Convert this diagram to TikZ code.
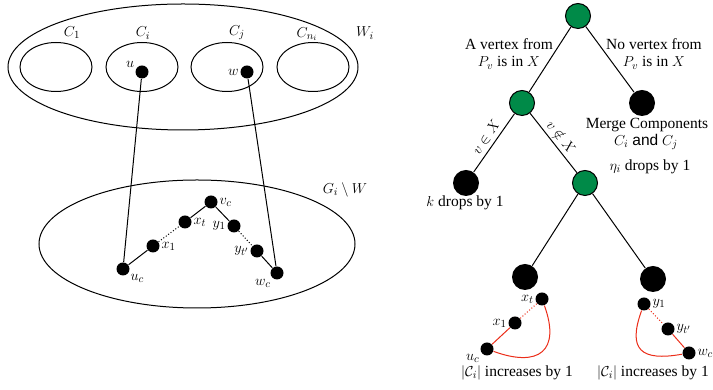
\documentclass[tikz,border=0pt]{standalone}
\usepackage{fontspec}
\setmainfont{Liberation Serif}
\setsansfont{Liberation Sans}
\usepackage{amsmath, amssymb}
\usetikzlibrary{shapes.geometric, positioning, calc}
\definecolor{treegreen}{RGB}{0, 138, 72}
\definecolor{pathred}{RGB}{235, 45, 25}

\tikzset{
  comp/.style={draw, ellipse, minimum width=72pt, minimum height=49pt, inner sep=0pt},
  vtx/.style={circle, fill=black, inner sep=0pt, minimum size=13pt},
  branch/.style={circle, draw, fill=treegreen, inner sep=0pt, minimum size=25pt},
  leaf/.style={circle, fill=black, inner sep=0pt, minimum size=26pt},
  lbl/.style={inner sep=1pt},
  edgelbl/.style={midway, sloped, above, inner sep=4pt},
}

\begin{document}
\begin{tikzpicture}[x=1pt, y=1pt, font=\fontsize{15.5}{17}\selectfont, line width=1pt]
  \useasboundingbox (0,0) rectangle (713,390);

  % Components of W_i
  \node[draw, ellipse, minimum width=350pt, minimum height=126pt] (W) at (183,323) {};
  \node (Wlbl) at (365,357) {$W_i$};
  \node[comp] (C1) at (56,323) {};
  \node[comp] (Ci) at (142,323) {};
  \node[comp] (Cj) at (227,323) {};
  \node[comp] (Cn) at (313,323) {};
  \node (C1lbl) at (72,357) {$C_1$};
  \node (Cilbl) at (143,357) {$C_i$};
  \node (Cjlbl) at (237,357) {$C_j$};
  \node (Cnlbl) at (307,356) {$C_{n_i}$};
  \node[vtx, label={[lbl]155:$u$}] (u) at (142,318) {};
  \node[vtx, label={[lbl]left:$w$}] (w) at (247,318) {};

  % The path inside G_i \ W
  \node[draw, ellipse, minimum width=316pt, minimum height=128pt] (G) at (197,146) {};
  \node (Glbl) at (345,200) {$G_i\setminus W$};
  \node[vtx, label={[lbl]right:$v_c$}] (vc) at (211,188) {};
  \node[vtx, label={[lbl]right:$x_t$}] (xt) at (185,168) {};
  \node[vtx, label={[lbl]left:$y_1$}] (y1) at (234,164) {};
  \node[vtx, label={[lbl]right:$x_1$}] (x1) at (153,144) {};
  \node[vtx, label={[lbl]left:$y_{t'}$}] (yt) at (257,139) {};
  \node[vtx, label={[lbl]-30:$u_c$}] (uc) at (123,121) {};
  \node[vtx, label={[lbl]-135:$w_c$}] (wc) at (277,117) {};

  \draw (u) -- (uc);
  \draw (w) -- (wc);
  \draw (uc) -- (x1);
  \draw[dotted] (x1) -- (xt);
  \draw (xt) -- (vc) -- (y1);
  \draw[dotted] (y1) -- (yt);
  \draw (yt) -- (wc);

  % Branching tree
  \node[branch] (root) at (578,374) {};
  \node[branch] (A) at (522,287) {};
  \node[leaf] (B) at (642,287) {};
  \node[leaf] (C) at (466,207) {};
  \node[branch] (D) at (585,207) {};
  \node[leaf] (E) at (525,113) {};
  \node[leaf] (F) at (653,111) {};

  \draw (root) -- (A);
  \draw (root) -- (B);
  \draw (A) -- node[edgelbl] {$v\in X$} (C);
  \draw (A) -- node[edgelbl] {$v\notin X$} (D);
  \draw (D) -- (E);
  \draw (D) -- (F);

  \node[align=center] (Albl) at (509,336) {A vertex from\\$P_v$ is in $X$};
  \node[align=center] (Blbl) at (654,336) {No vertex from\\$P_v$ is in $X$};
  \node (merge) at (647,265) {Merge Components};
  \node (mergeC) at (646,248) {$C_i$ {\sffamily and} $C_j$};
  \node (eta) at (650,223) {$\eta_i$ drops by 1};
  \node (kdrop) at (465,187) {$k$ drops by 1};

  % New cycles
  \node[vtx, label={[lbl]left:$x_t$}] (xt2) at (542,91) {};
  \node[vtx, label={[lbl]left:$x_1$}] (x12) at (515,67) {};
  \node[vtx, label={[lbl]-150:$u_c$}] (uc2) at (487,41) {};
  \node[vtx, label={[lbl]right:$y_1$}] (y12) at (644,86) {};
  \node[vtx, label={[lbl]right:$y_{t'}$}] (yt2) at (668,61) {};
  \node[vtx, label={[lbl]right:$w_c$}] (wc2) at (689,37) {};

  \draw[pathred] (uc2) -- (x12);
  \draw[pathred, dotted] (x12) -- (xt2);
  \draw[pathred] (uc2) to[out=-20, in=-70, looseness=1.8] (xt2);
  \draw[pathred, dotted] (y12) -- (yt2);
  \draw[pathred] (yt2) -- (wc2);
  \draw[pathred] (y12) to[out=-110, in=-170, looseness=1.8] (wc2);

  \node (incl) at (517,17) {$|\mathcal{C}_i|$ increases by 1};
  \node (incr) at (653,17) {$|\mathcal{C}_i|$ increases by 1};
\end{tikzpicture}
\end{document}
